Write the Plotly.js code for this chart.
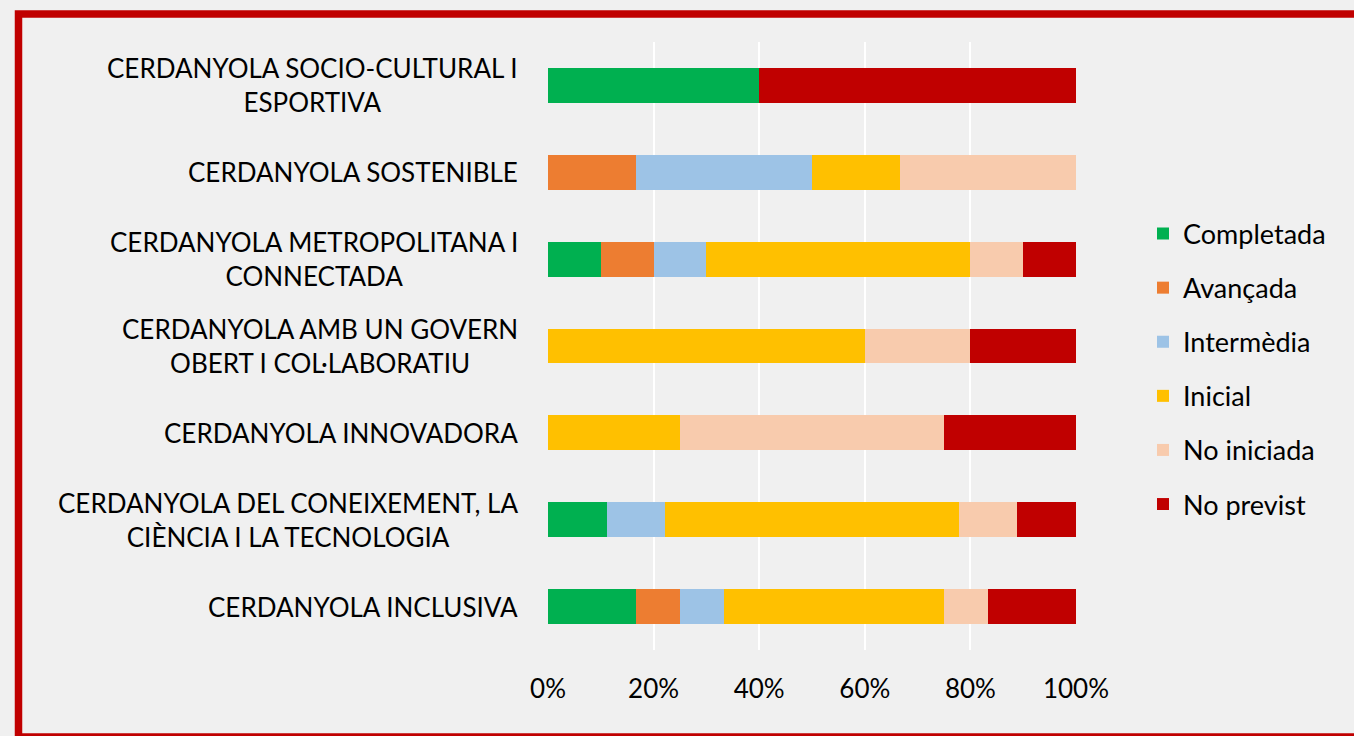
<!DOCTYPE html>
<html>
<head>
<meta charset="utf-8">
<script src="https://cdn.plot.ly/plotly-3.0.1.min.js"></script>
<style>
  html, body { margin: 0; padding: 0; background: #f0f0f0; }
  #chart { width: 1354px; height: 736px; }
</style>
</head>
<body>
<div id="chart"></div>
<script>
// Categories, top to bottom
const categories = [
  "CERDANYOLA SOCIO-CULTURAL I<br>ESPORTIVA",
  "CERDANYOLA SOSTENIBLE",
  "CERDANYOLA METROPOLITANA I<br>CONNECTADA",
  "CERDANYOLA AMB UN GOVERN<br>OBERT I COL·LABORATIU",
  "CERDANYOLA INNOVADORA",
  "CERDANYOLA DEL CONEIXEMENT, LA<br>CIÈNCIA I LA TECNOLOGIA",
  "CERDANYOLA INCLUSIVA"
];

// Series values (% of actions per state)
const completada = [40, 0, 10, 0, 0, 11.1, 16.7];
const avancada   = [0, 16.7, 10, 0, 0, 0, 8.3];
const intermedia = [0, 33.3, 10, 0, 0, 11.1, 8.3];
const inicial    = [0, 16.7, 50, 60, 25, 55.6, 41.7];
const noIniciada = [0, 33.3, 10, 20, 50, 11.1, 8.3];
const noPrevist  = [60, 0, 10, 20, 25, 11.1, 16.7];

const seriesNames = ["Completada", "Avançada", "Intermèdia", "Inicial", "No iniciada", "No previst"];
const seriesValues = [completada, avancada, intermedia, inicial, noIniciada, noPrevist];
const seriesColors = ["#00b050", "#ed7d31", "#9dc3e6", "#ffc000", "#f8cbad", "#c00000"];

const xTickVals = [0, 20, 40, 60, 80, 100];

const FONT = "Lato, 'Open Sans', sans-serif";
const W = 1354, H = 736;
const M = { l: 548, r: 278, t: 42, b: 86 };
const PW = W - M.l - M.r, PH = H - M.t - M.b;
const px2x = p => (p - M.l) / PW;
const px2y = p => 1 - (p - M.t) / PH;

const traces = seriesNames.map((name, i) => ({
  type: "bar",
  orientation: "h",
  name: name,
  legendgroup: "g" + i,
  x: seriesValues[i],
  y: categories,
  marker: { color: seriesColors[i], line: { width: 0 } },
  hoverinfo: "skip"
}));

const annotations = categories.map(c => ({
  xref: "paper", yref: "y",
  x: 0, y: c,
  xanchor: "right", yanchor: "middle",
  xshift: -28,
  text: c,
  align: "center",
  showarrow: false,
  font: { family: FONT, size: 26, color: "#000000" }
}));

const layout = {
  width: W, height: H,
  margin: M,
  paper_bgcolor: "#f0f0f0",
  plot_bgcolor: "#f0f0f0",
  barmode: "stack",
  bargap: 0.6,
  showlegend: true,
  font: { family: FONT, size: 26, color: "#000000" },
  xaxis: {
    range: [0, 100],
    tickvals: xTickVals,
    ticktext: xTickVals.map(v => v + "%"),
    showgrid: true,
    gridcolor: "#ffffff",
    gridwidth: 2,
    zeroline: false,
    showline: false,
    ticks: "",
    ticklabelstandoff: 21,
    tickfont: { family: FONT, size: 26, color: "#000000" },
    fixedrange: true
  },
  yaxis: {
    type: "category",
    categoryorder: "array",
    categoryarray: categories,
    autorange: "reversed",
    showticklabels: false,
    showgrid: false,
    zeroline: false,
    showline: false,
    ticks: "",
    fixedrange: true
  },
  legend: {
    x: px2x(1143), xanchor: "left",
    y: px2y(369), yanchor: "middle",
    traceorder: "grouped",
    tracegroupgap: 16,
    bgcolor: "rgba(0,0,0,0)",
    font: { family: FONT, size: 27, color: "#000000" }
  },
  annotations: annotations,
  shapes: [{
    type: "rect",
    xref: "paper", yref: "paper",
    x0: px2x(18.5), x1: px2x(1400),
    y0: px2y(14), y1: px2y(737),
    line: { color: "#c00000", width: 7.5 },
    fillcolor: "rgba(0,0,0,0)",
    layer: "below"
  }]
};

Plotly.newPlot("chart", traces, layout, { staticPlot: true, displayModeBar: false });
</script>
</body>
</html>
